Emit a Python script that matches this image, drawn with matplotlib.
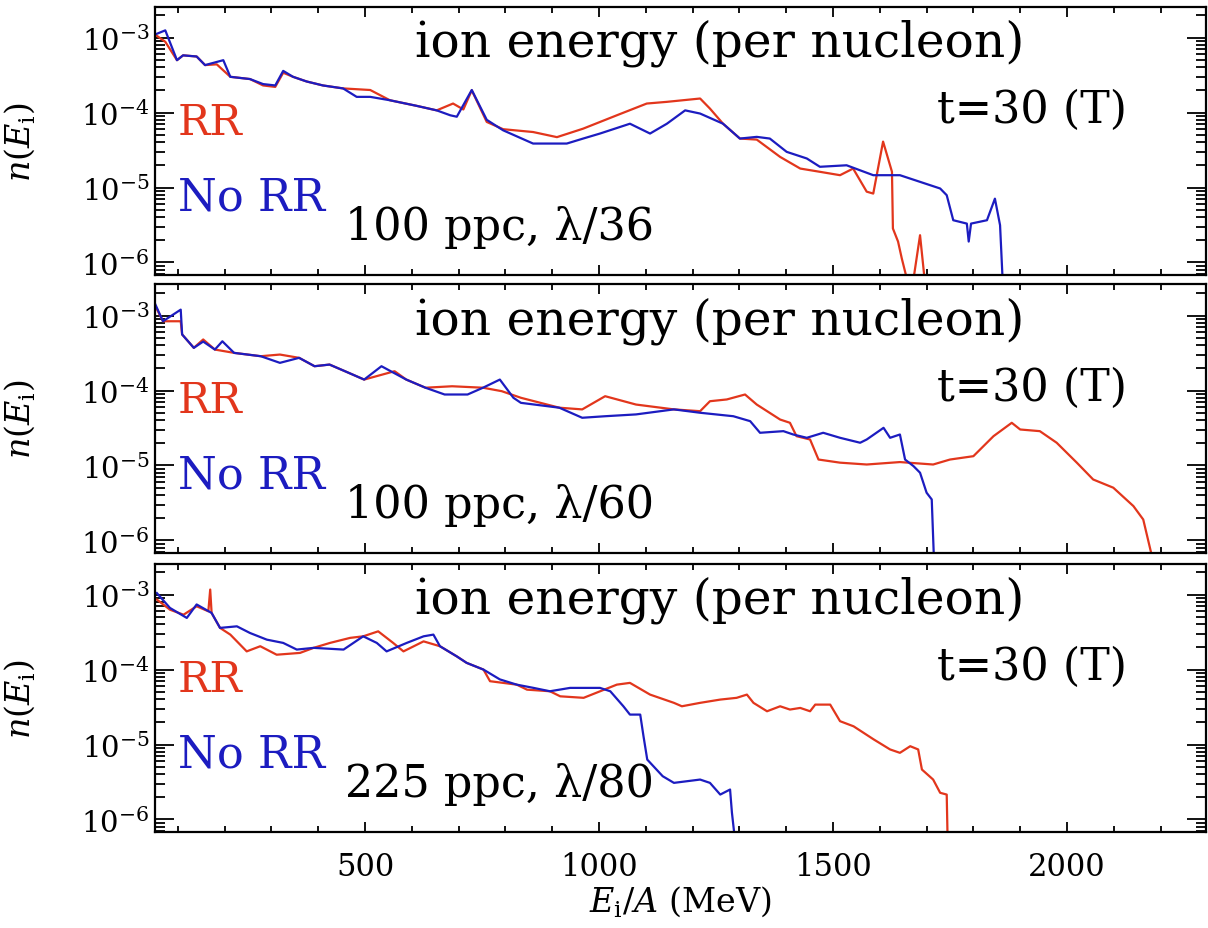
import matplotlib
matplotlib.use("Agg")
import matplotlib.pyplot as plt
from matplotlib.ticker import MultipleLocator, LogLocator, NullFormatter

plt.rcParams['font.family'] = ['DejaVu Serif']
plt.rcParams['mathtext.fontset'] = 'dejavuserif'

# ion energy spectra (E/A in MeV, n(E))
# panel 1: 100 ppc, lambda/36
e_rr_1 = [51, 73, 98, 111, 140, 158, 183, 212, 254, 282, 308, 325, 346, 375, 410, 453, 511, 553,
          610, 653, 688, 710, 728, 760, 795, 859, 910, 966, 1038, 1102, 1145, 1216, 1237, 1265,
          1301, 1337, 1387, 1430, 1472, 1515, 1543, 1572, 1586, 1607, 1626, 1628, 1639, 1647,
          1658, 1672, 1686, 1697]
n_rr_1 = [1.1e-3, 8.8e-4, 5.0e-4, 5.8e-4, 5.6e-4, 4.3e-4, 4.4e-4, 3.0e-4, 2.8e-4, 2.3e-4, 2.2e-4,
          3.4e-4, 3.0e-4, 2.6e-4, 2.3e-4, 2.1e-4, 2.0e-4, 1.46e-4, 1.23e-4, 1.07e-4, 1.32e-4,
          1.1e-4, 1.98e-4, 7.5e-5, 6.0e-5, 5.5e-5, 4.7e-5, 6.1e-5, 9.2e-5, 1.32e-4, 1.39e-4,
          1.54e-4, 1.13e-4, 7.1e-5, 4.5e-5, 4.36e-5, 2.56e-5, 1.79e-5, 1.62e-5, 1.46e-5, 1.79e-5,
          8.8e-6, 8.3e-6, 4.1e-5, 1.62e-5, 2.84e-6, 1.9e-6, 1.13e-6, 6.0e-7, 6.0e-7, 2.31e-6, 5e-7]
e_norr_1 = [51, 73, 98, 111, 140, 158, 197, 212, 254, 282, 308, 325, 346, 375, 410, 453, 482, 511,
            553, 610, 653, 682, 696, 728, 760, 795, 859, 931, 966, 1002, 1066, 1109, 1145, 1184,
            1216, 1265, 1301, 1337, 1365, 1401, 1444, 1472, 1529, 1586, 1643, 1686, 1729, 1743,
            1757, 1786, 1790, 1795, 1829, 1846, 1857, 1863]
n_norr_1 = [1.1e-3, 1.25e-3, 5.0e-4, 5.8e-4, 5.6e-4, 4.3e-4, 5.0e-4, 3.0e-4, 2.8e-4, 2.4e-4, 2.3e-4,
            3.6e-4, 3.0e-4, 2.6e-4, 2.3e-4, 2.1e-4, 1.62e-4, 1.62e-4, 1.46e-4, 1.23e-4, 1.07e-4,
            9.2e-5, 8.8e-5, 2.0e-4, 8.0e-5, 5.8e-5, 3.86e-5, 3.86e-5, 4.5e-5, 5.25e-5, 7.1e-5,
            5.25e-5, 7.1e-5, 1.07e-4, 9.7e-5, 7.1e-5, 4.5e-5, 4.74e-5, 4.5e-5, 2.99e-5, 2.44e-5,
            1.89e-5, 1.98e-5, 1.46e-5, 1.46e-5, 1.19e-5, 9.7e-6, 7.9e-6, 3.66e-6, 3.3e-6, 1.9e-6,
            3.3e-6, 3.66e-6, 7.1e-6, 3.14e-6, 5e-7]

# panel 2: 100 ppc, lambda/60
e_rr_2 = [52, 68, 106, 109, 134, 154, 179, 220, 277, 318, 359, 392, 424, 457, 498, 563, 588, 629,
          686, 752, 792, 833, 915, 964, 1013, 1079, 1160, 1216, 1237, 1273, 1312, 1337, 1387,
          1408, 1422, 1451, 1469, 1515, 1572, 1643, 1714, 1750, 1800, 1843, 1882, 1900, 1942,
          1978, 2021, 2056, 2099, 2142, 2163, 2185]
n_rr_2 = [1.33e-3, 8.4e-4, 8.4e-4, 5.6e-4, 3.71e-4, 4.8e-4, 3.52e-4, 3.18e-4, 2.87e-4, 3.02e-4,
          2.73e-4, 2.11e-4, 2.22e-4, 1.81e-4, 1.40e-4, 1.81e-4, 1.40e-4, 1.09e-4, 1.14e-4, 1.09e-4,
          9.8e-5, 8.0e-5, 5.9e-5, 5.6e-5, 8.4e-5, 6.5e-5, 5.6e-5, 5.3e-5, 7.2e-5, 7.6e-5, 8.85e-5,
          6.5e-5, 4.1e-5, 3.71e-5, 2.46e-5, 2.22e-5, 1.2e-5, 1.09e-5, 1.03e-5, 1.11e-5, 1.03e-5,
          1.2e-5, 1.33e-5, 2.46e-5, 3.71e-5, 3.02e-5, 2.87e-5, 2.01e-5, 1.09e-5, 6.5e-6, 5.05e-6,
          2.87e-6, 1.9e-6, 5e-7]
e_norr_2 = [52, 68, 106, 109, 134, 154, 179, 195, 220, 277, 318, 359, 392, 424, 457, 498, 535, 588,
            629, 670, 719, 752, 788, 817, 833, 915, 964, 1013, 1079, 1160, 1216, 1287, 1323, 1344,
            1394, 1415, 1444, 1479, 1515, 1558, 1572, 1608, 1622, 1643, 1654, 1672, 1686, 1700,
            1711, 1714, 1716]
n_norr_2 = [1.40e-3, 8.4e-4, 1.20e-3, 5.6e-4, 3.71e-4, 4.5e-4, 3.52e-4, 4.54e-4, 3.18e-4, 2.87e-4,
            2.34e-4, 2.73e-4, 2.11e-4, 2.22e-4, 1.81e-4, 1.40e-4, 2.11e-4, 1.40e-4, 1.09e-4,
            8.85e-5, 8.85e-5, 1.09e-4, 1.40e-4, 8.0e-5, 6.85e-5, 5.9e-5, 4.33e-5, 4.54e-5, 4.8e-5,
            5.6e-5, 5.05e-5, 4.54e-5, 3.9e-5, 2.73e-5, 2.87e-5, 2.59e-5, 2.34e-5, 2.73e-5, 2.34e-5,
            2.01e-5, 2.22e-5, 3.18e-5, 2.34e-5, 2.59e-5, 1.20e-5, 9.8e-6, 8.0e-6, 4.33e-6, 3.52e-6,
            1.09e-6, 5e-7]

# panel 3: 225 ppc, lambda/80
e_rr_3 = [55, 83, 112, 140, 165, 169, 172, 190, 212, 247, 276, 311, 361, 390, 425, 468, 496, 528,
          560, 582, 625, 660, 696, 717, 753, 767, 824, 846, 895, 917, 967, 1038, 1066, 1109, 1160,
          1177, 1216, 1259, 1294, 1316, 1330, 1359, 1387, 1408, 1430, 1451, 1462, 1494, 1515,
          1544, 1587, 1622, 1643, 1665, 1682, 1690, 1714, 1729, 1743, 1745]
n_rr_3 = [8.6e-4, 6.3e-4, 5.4e-4, 7.0e-4, 6.0e-4, 1.17e-3, 5.7e-4, 3.6e-4, 2.93e-4, 1.75e-4,
          2.05e-4, 1.58e-4, 1.67e-4, 1.95e-4, 2.27e-4, 2.65e-4, 2.78e-4, 3.24e-4, 2.27e-4, 1.75e-4,
          2.38e-4, 2.05e-4, 1.5e-4, 1.23e-4, 1.0e-4, 7.0e-5, 6.3e-5, 5.4e-5, 5.14e-5, 4.4e-5,
          4.2e-5, 6.3e-5, 6.65e-5, 4.64e-5, 3.6e-5, 3.24e-5, 3.6e-5, 3.98e-5, 4.2e-5, 4.64e-5,
          3.6e-5, 2.78e-5, 3.24e-5, 2.93e-5, 3.08e-5, 2.78e-5, 3.41e-5, 3.41e-5, 2.05e-5, 1.75e-5,
          1.17e-5, 8.6e-6, 7.75e-6, 9.5e-6, 8.6e-6, 4.64e-6, 3.41e-6, 2.27e-6, 2.15e-6, 5e-7]
e_norr_3 = [55, 83, 119, 140, 172, 190, 226, 254, 290, 325, 354, 390, 454, 496, 525, 546, 589, 625,
            646, 660, 696, 717, 753, 788, 824, 860, 895, 938, 1002, 1024, 1052, 1066, 1088, 1095,
            1103, 1136, 1160, 1216, 1237, 1259, 1280, 1284, 1291]
n_norr_3 = [1.05e-3, 6.65e-4, 4.89e-4, 7.4e-4, 5.7e-4, 3.6e-4, 3.78e-4, 3.08e-4, 2.51e-4, 2.27e-4,
            1.85e-4, 1.95e-4, 1.85e-4, 2.78e-4, 2.27e-4, 1.75e-4, 2.27e-4, 2.78e-4, 2.93e-4,
            2.05e-4, 1.5e-4, 1.23e-4, 1.0e-4, 7.4e-5, 6.3e-5, 5.7e-5, 5.14e-5, 5.7e-5, 5.7e-5,
            5.14e-5, 3.24e-5, 2.51e-5, 2.51e-5, 1.29e-5, 6.3e-6, 3.78e-6, 3.08e-6, 3.41e-6,
            3.08e-6, 2.15e-6, 2.51e-6, 1.23e-6, 5e-7]

labels = ["100 ppc, λ/36", "100 ppc, λ/60", "225 ppc, λ/80"]
rr_data = [(e_rr_1, n_rr_1), (e_rr_2, n_rr_2), (e_rr_3, n_rr_3)]
norr_data = [(e_norr_1, n_norr_1), (e_norr_2, n_norr_2), (e_norr_3, n_norr_3)]

RED = '#e2361c'
BLUE = '#1c1cc0'

fig = plt.figure(figsize=(12.08, 9.29), dpi=100)
bottoms = [0.7029, 0.4037, 0.1033]
axes = []
for i in range(3):
    ax = fig.add_axes([0.1283, bottoms[i], 0.870, 0.2890])
    axes.append(ax)
    e, n = rr_data[i]
    ax.plot(e, n, color=RED, lw=1.6)
    e, n = norr_data[i]
    ax.plot(e, n, color=BLUE, lw=1.6)

    ax.set_yscale('log')
    ax.set_xlim(51, 2297)
    ax.set_ylim(6.8e-7, 2.6e-3)
    ax.xaxis.set_major_locator(MultipleLocator(500))
    ax.xaxis.set_minor_locator(MultipleLocator(100))
    ax.yaxis.set_minor_locator(LogLocator(base=10, subs=range(2, 10)))
    ax.yaxis.set_minor_formatter(NullFormatter())
    ax.tick_params(which='both', direction='in', top=True, right=True, width=1.3)
    ax.tick_params(axis='y', which='major', length=14, labelsize=21, pad=4)
    ax.tick_params(axis='y', which='minor', length=7)
    ax.tick_params(axis='x', which='major', length=7, labelsize=22, pad=14)
    ax.tick_params(axis='x', which='minor', length=4)
    for s in ax.spines.values():
        s.set_linewidth(1.6)
    if i < 2:
        ax.tick_params(axis='x', labelbottom=False)

    ax.set_ylabel(r'$n(E_{\rm i})$', fontsize=24)
    ax.yaxis.set_label_coords(-0.112, 0.5)

    ax.text(0.5376, 0.817, "ion energy (per nucleon)", transform=ax.transAxes,
            fontsize=35, ha='center', va='baseline')
    ax.text(0.925, 0.571, "t=30 (T)", transform=ax.transAxes,
            fontsize=32, ha='right', va='baseline')
    ax.text(0.022, 0.526, "RR", transform=ax.transAxes, color=RED,
            fontsize=31, ha='left', va='baseline')
    ax.text(0.022, 0.2425, "No RR", transform=ax.transAxes, color=BLUE,
            fontsize=32, ha='left', va='baseline')
    ax.text(0.181, 0.134, labels[i], transform=ax.transAxes,
            fontsize=32, ha='left', va='baseline')

axes[2].set_xlabel(r'$E_{\rm i}/A$ (MeV)', fontsize=24)
axes[2].xaxis.set_label_coords(0.5, -0.19)

fig.savefig('out.png', dpi=100)
